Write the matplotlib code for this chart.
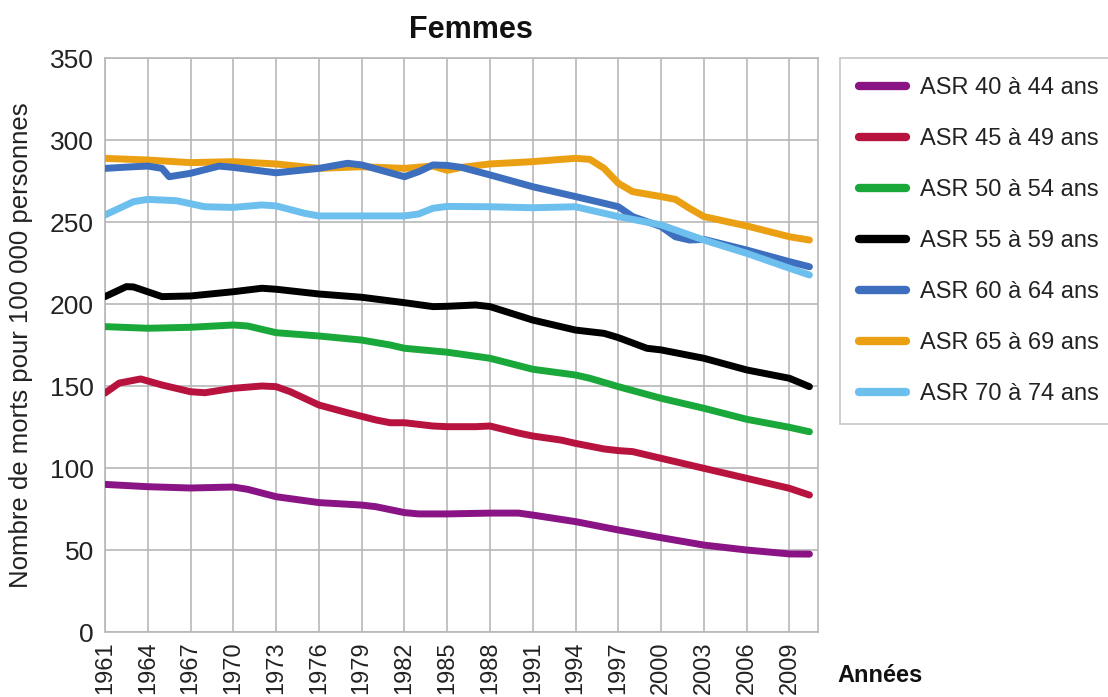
import matplotlib
matplotlib.use("Agg")
import matplotlib.pyplot as plt

plt.rcParams['font.family'] = ['Liberation Sans', 'DejaVu Sans']

# data (deaths per 100 000 women)
labels = ["ASR 40 à 44 ans", "ASR 45 à 49 ans", "ASR 50 à 54 ans", "ASR 55 à 59 ans",
          "ASR 60 à 64 ans", "ASR 65 à 69 ans", "ASR 70 à 74 ans"]
colors = ["#8a1485", "#b8123e", "#1aa83a", "#000000", "#3d6fbe", "#eaa012", "#6dbfee"]

years_40 = [1961, 1964, 1967, 1970, 1971, 1973, 1976, 1979, 1980, 1982, 1983, 1985, 1988,
            1990, 1991, 1994, 1997, 2000, 2003, 2006, 2009, 2010.4]
asr_40 = [90, 88.6, 87.8, 88.4, 87, 82.5, 78.9, 77.4, 76.4, 72.8, 72, 72, 72.5,
          72.5, 71.3, 67.3, 62.2, 57.5, 53, 50, 47.6, 47.5]

years_45 = [1961, 1962, 1963.5, 1965, 1967, 1968, 1970, 1972, 1973, 1974, 1976, 1978, 1980,
            1981, 1982, 1984, 1985, 1987, 1988, 1990, 1991, 1993, 1994, 1996, 1997, 1998,
            2000, 2003, 2006, 2009, 2010.4]
asr_45 = [145.7, 151.8, 154.3, 150.6, 146.5, 145.9, 148.6, 150, 149.6, 146.5, 138.4, 133.7, 129.3,
          127.6, 127.6, 125.6, 125.2, 125.2, 125.6, 121.3, 119.5, 117, 115, 111.6, 110.6, 110,
          105.9, 99.8, 93.7, 87.6, 83.5]

years_50 = [1961, 1964, 1967, 1970, 1971, 1973, 1976, 1979, 1981, 1982, 1985, 1988, 1991,
            1994, 1995, 1997, 2000, 2003, 2006, 2009, 2010.4]
asr_50 = [186.2, 185.2, 185.8, 187.2, 186.6, 182.5, 180.5, 178, 175, 173, 170.6, 166.9, 160.2,
          156.7, 154.7, 149.6, 142.5, 136.4, 129.7, 124.8, 122.1]

years_55 = [1961, 1962.5, 1963, 1965, 1967, 1970, 1972, 1973, 1976, 1979, 1982, 1984, 1985,
            1987, 1988, 1991, 1994, 1996, 1997, 1999, 2000, 2003, 2006, 2009, 2010.4]
asr_55 = [204.5, 210.6, 210.4, 204.5, 204.9, 207.5, 209.6, 209, 206.1, 204.1, 200.8, 198.4, 198.6,
          199.4, 198.4, 190.2, 184.1, 182.1, 179.5, 173, 172, 166.9, 159.8, 154.7, 149.6]

years_60 = [1961, 1963, 1964, 1965, 1965.5, 1967, 1969, 1970, 1973, 1976, 1978, 1979, 1982,
            1983, 1984, 1985, 1986, 1988, 1991, 1994, 1996, 1997, 1998, 2000, 2001, 2002,
            2003, 2006, 2009, 2010.4]
asr_60 = [282.7, 283.7, 284.1, 282.7, 277.6, 279.7, 284.1, 283.3, 280, 282.7, 285.8, 284.8, 277.6,
          280.7, 284.8, 284.5, 283.3, 278.7, 271.5, 265.5, 261.4, 259.3, 253.3, 247.2, 241, 239,
          239.4, 232.9, 225.8, 222.7]

years_65 = [1961, 1964, 1967, 1970, 1973, 1976, 1979, 1982, 1984, 1985, 1986, 1988, 1991,
            1993, 1994, 1995, 1996, 1997, 1998, 2000, 2001, 2002, 2003, 2006, 2009, 2010.4]
asr_65 = [288.8, 287.8, 286.2, 286.8, 285.4, 282.7, 283.7, 282.7, 284.1, 281.5, 283.3, 285.4, 286.8,
          288.2, 288.8, 288.2, 282.7, 273.6, 268.5, 265.5, 263.8, 258.3, 253.3, 247.6, 241, 239]

years_70 = [1961, 1963, 1964, 1966, 1968, 1970, 1972, 1973, 1975, 1976, 1979, 1982, 1983,
            1984, 1985, 1988, 1991, 1994, 1995, 1997, 2000, 2003, 2006, 2009, 2010.4]
asr_70 = [254.3, 262.4, 263.8, 263, 259.3, 258.9, 260.4, 259.8, 255.3, 253.7, 253.7, 253.7, 254.9,
          258.4, 259.5, 259.3, 258.7, 259.3, 257.3, 253.3, 248.2, 239, 230.9, 221.8, 217.7]

series = [(years_40, asr_40), (years_45, asr_45), (years_50, asr_50), (years_55, asr_55),
          (years_60, asr_60), (years_65, asr_65), (years_70, asr_70)]
zorders = [3, 3, 3, 3, 5, 4, 6]

tick_years = list(range(1961, 2010, 3))

fig = plt.figure(figsize=(11.08, 6.97), dpi=100)
ax = fig.add_axes([105 / 1108, 1 - 632 / 697, (818 - 105) / 1108, (632 - 58) / 697])

for (x, y), lab, col, z in zip(series, labels, colors, zorders):
    ax.plot(x, y, color=col, lw=5, label=lab, zorder=z,
            solid_capstyle='round', solid_joinstyle='round')

ax.set_xlim(1961, 2011)
ax.set_ylim(0, 350)
ax.set_xticks(tick_years)
ax.set_xticklabels([str(t) for t in tick_years], rotation=90)
ax.set_yticks(range(0, 351, 50))
ax.tick_params(axis='both', length=0, colors='#222222')
ax.tick_params(axis='y', labelsize=19, pad=8)
ax.tick_params(axis='x', labelsize=17, pad=7)
ax.grid(True, color='#b8b8b8', lw=1.2)
ax.set_axisbelow(True)
for s in ax.spines.values():
    s.set_color('#b8b8b8')
    s.set_linewidth(1.2)

ax.set_ylabel("Nombre de morts pour 100 000 personnes", fontsize=18.5, color='#222222', labelpad=12)

fig.text(471 / 1108, 1 - 30 / 697, "Femmes", ha='center', va='center',
         fontsize=22, fontweight='bold', color='#111111')
fig.text(837 / 1108, 1 - 675 / 697, "Années", ha='left', va='center',
         fontsize=17, fontweight='bold', color='#111111')

leg = fig.legend(loc='upper left',
                 bbox_to_anchor=(840 / 1108, 1 - 58 / 697, 300 / 1108, 0.0),
                 mode='expand', fontsize=17, frameon=True, fancybox=False,
                 handlelength=2.0, handletextpad=0.6, labelspacing=1.23,
                 borderpad=0.8, borderaxespad=0)
leg.get_frame().set_edgecolor('#b8b8b8')
leg.get_frame().set_linewidth(1.2)
for line in leg.get_lines():
    line.set_linewidth(6)
for t in leg.get_texts():
    t.set_color('#222222')

fig.savefig("out.png", dpi=100)
